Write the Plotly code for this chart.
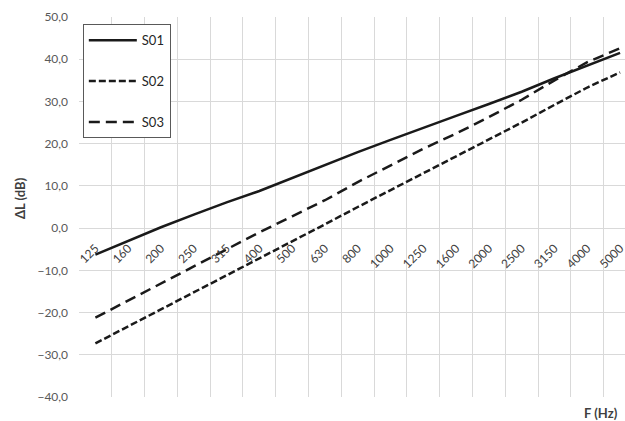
import plotly.graph_objects as go

freqs = ["125", "160", "200", "250", "315", "400", "500", "630", "800", "1000",
         "1250", "1600", "2000", "2500", "3150", "4000", "5000"]
s01 = [-6.3, -3.0, 0.2, 3.2, 6.1, 8.8, 11.9, 15.0, 18.0, 20.9, 23.8, 26.6, 29.4, 32.3, 35.5, 38.5, 41.5]
s02 = [-27.3, -23.3, -19.3, -15.2, -11.2, -7.2, -3.1, 0.9, 5.0, 9.0, 13.1, 17.0, 21.0, 25.0, 29.2, 33.3, 36.9]
s03 = [-21.2, -17.2, -13.1, -9.1, -5.0, -1.0, 2.8, 6.6, 10.9, 14.9, 18.8, 22.4, 26.3, 30.4, 35.0, 39.3, 42.6]

FONT = "Lato, Liberation Sans, sans-serif"
LINE_COL = "#1a1a1a"

fig = go.Figure()
series = [("S01", s01, "solid"), ("S02", s02, "7px,3px"), ("S03", s03, "11px,6px")]
for name, vals, dash in series:
    fig.add_trace(go.Scatter(
        x=freqs, y=vals, name=name, mode="lines", legendgroup=name,
        line=dict(color=LINE_COL, width=2.5, dash=dash),
    ))

y_min, y_max = -40, 50
fig.update_layout(
    width=625, height=421,
    margin=dict(l=79, r=0, t=17, b=24, autoexpand=False),
    paper_bgcolor="white", plot_bgcolor="white",
    separators=", ",
    font=dict(family=FONT, size=12, color="#595959"),
    showlegend=True,
    legend=dict(
        x=0.007, y=0.981, xanchor="left", yanchor="top",
        bgcolor="white", bordercolor="#595959", borderwidth=1,
        font=dict(family=FONT, size=13, color="#262626"),
        tracegroupgap=21, itemwidth=48,
    ),
    xaxis=dict(
        type="category", range=[-0.5, 16.15], automargin=False,
        anchor="free", position=(0 - y_min) / (y_max - y_min),
        tickson="boundaries", showgrid=True, gridcolor="#d9d9d9", gridwidth=1,
        ticks="", showline=False, zeroline=False,
        tickangle=-45, ticklabelstandoff=10,
        tickfont=dict(family=FONT, size=12, color="#404040"),
    ),
    yaxis=dict(
        range=[y_min, y_max], dtick=10, tickformat=".1f", automargin=False,
        showgrid=True, gridcolor="#d9d9d9", gridwidth=1,
        zeroline=True, zerolinecolor="#d9d9d9", zerolinewidth=1,
        showline=False, ticks="", ticklabelstandoff=10,
        tickfont=dict(family=FONT, size=12, color="#595959"),
    ),
    annotations=[
        dict(text="<b>ΔL (dB)</b>", xref="paper", yref="paper",
             x=(20 - 79) / 546, y=(397 - 198) / 380, textangle=-90,
             showarrow=False, xanchor="center", yanchor="middle",
             font=dict(family=FONT, size=13, color="#404040")),
        dict(text="<b>F (Hz)</b>", xref="paper", yref="paper",
             x=(620 - 79) / 546, y=(397 - 413) / 380,
             showarrow=False, xanchor="right", yanchor="middle",
             font=dict(family=FONT, size=13, color="#404040")),
    ],
)

fig.write_html("out.html", config={"displayModeBar": False},
               post_script="document.body.style.margin='0';document.body.style.overflow='hidden';")
